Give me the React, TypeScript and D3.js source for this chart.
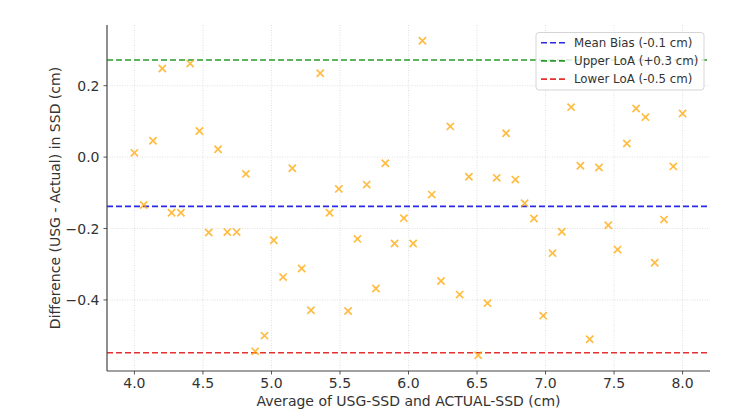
import React from "react";
import * as d3 from "d3";

const averages: number[] = d3.range(60).map((i) => 4 + (i * 4) / 59);
const differences: number[] = [
  0.012, -0.134, 0.046, 0.248, -0.156, -0.156, 0.262, 0.073, -0.211, 0.022,
  -0.21, -0.21, -0.047, -0.544, -0.5, -0.233, -0.336, -0.031, -0.312, -0.429,
  0.235, -0.156, -0.089, -0.431, -0.229, -0.077, -0.368, -0.017, -0.242, -0.171,
  -0.242, 0.326, -0.105, -0.347, 0.086, -0.385, -0.055, -0.555, -0.409, -0.058,
  0.067, -0.063, -0.129, -0.172, -0.444, -0.269, -0.209, 0.14, -0.024, -0.51,
  -0.029, -0.191, -0.259, 0.038, 0.136, 0.112, -0.296, -0.175, -0.026, 0.122,
];
const xTicks: number[] = [4.0, 4.5, 5.0, 5.5, 6.0, 6.5, 7.0, 7.5, 8.0];
const yTicks: number[] = [0.2, 0.0, -0.2, -0.4];
const refLines = [
  { label: "Mean Bias (-0.1 cm)", value: -0.138, color: "#2a2ae0" },
  { label: "Upper LoA (+0.3 cm)", value: 0.272, color: "#2a9a2a" },
  { label: "Lower LoA (-0.5 cm)", value: -0.548, color: "#e53030" },
];

const W = 750, H = 418;
const L = 107, R = 710, T = 25, B = 371;
const FONT = "'DejaVu Sans', sans-serif";

export default function App() {
  const xMin = d3.min(averages)!, xMax = d3.max(averages)!;
  const xPad = (xMax - xMin) * 0.05;
  const allY = differences.concat(refLines.map((r) => r.value));
  const yMin = d3.min(allY)!, yMax = d3.max(allY)!;
  const yPad = (yMax - yMin) * 0.05;
  const x = d3.scaleLinear().domain([xMin - xPad, xMax + xPad]).range([L, R]);
  const y = d3.scaleLinear().domain([yMin - yPad, yMax + yPad]).range([B, T]);
  const fmt = (v: number) => d3.format(".1f")(v).replace("-", "\u2212");
  const ms = 3.6;
  return (
    <svg width={W} height={H} style={{ position: "absolute", left: 0, top: 0, background: "#fff" }}>
      {xTicks.map((t) => (
        <line key={"gx" + t} x1={x(t)} x2={x(t)} y1={T} y2={B} stroke="#d8d8d8" strokeWidth={0.8} strokeDasharray="1,1.5" />
      ))}
      {yTicks.map((t) => (
        <line key={"gy" + t} x1={L} x2={R} y1={y(t)} y2={y(t)} stroke="#d8d8d8" strokeWidth={0.8} strokeDasharray="1,1.5" />
      ))}
      {refLines.map((r) => (
        <line key={r.label} x1={L} x2={R} y1={y(r.value)} y2={y(r.value)} stroke={r.color} strokeWidth={1.6} strokeDasharray="6,3" />
      ))}
      {averages.map((a, i) => {
        const cx = x(a), cy = y(differences[i]);
        return (
          <path key={i} d={`M${cx - ms},${cy - ms}L${cx + ms},${cy + ms}M${cx - ms},${cy + ms}L${cx + ms},${cy - ms}`}
            stroke="#ffa500" strokeOpacity={0.75} strokeWidth={1.7} fill="none" />
        );
      })}
      <line x1={L} x2={L} y1={T} y2={B} stroke="#444" strokeWidth={1.2} />
      <line x1={L} x2={R} y1={B} y2={B} stroke="#444" strokeWidth={1.2} />
      {xTicks.map((t) => (
        <g key={"xt" + t}>
          <line x1={x(t)} x2={x(t)} y1={B} y2={B + 3.5} stroke="#444" strokeWidth={0.9} />
          <text x={x(t)} y={B + 16.5} textAnchor="middle" fontFamily={FONT} fontSize={14} fill="#333">{fmt(t)}</text>
        </g>
      ))}
      {yTicks.map((t) => (
        <g key={"yt" + t}>
          <line x1={L - 3.5} x2={L} y1={y(t)} y2={y(t)} stroke="#444" strokeWidth={0.9} />
          <text x={L - 7.5} y={y(t) + 5} textAnchor="end" fontFamily={FONT} fontSize={14} fill="#333">{fmt(t)}</text>
        </g>
      ))}
      <text x={(L + R) / 2} y={406} textAnchor="middle" fontFamily={FONT} fontSize={14} fill="#333">
        Average of USG-SSD and ACTUAL-SSD (cm)
      </text>
      <text transform={`translate(60,${(T + B) / 2}) rotate(-90)`} textAnchor="middle" fontFamily={FONT} fontSize={14} fill="#333">
        Difference (USG - Actual) in SSD (cm)
      </text>
      <g>
        <rect x={536} y={32.5} width={168} height={57.5} rx={3} fill="#fff" fillOpacity={0.8} stroke="#d0d0d0" strokeWidth={0.9} />
        {refLines.map((r, i) => (
          <g key={"lg" + i}>
            <line x1={541} x2={565} y1={42.7 + i * 18.2} y2={42.7 + i * 18.2} stroke={r.color} strokeWidth={1.6} strokeDasharray="6,3" />
            <text x={574} y={42.7 + i * 18.2 + 4.3} fontFamily={FONT} fontSize={11.8} fill="#333">{r.label}</text>
          </g>
        ))}
      </g>
    </svg>
  );
}
